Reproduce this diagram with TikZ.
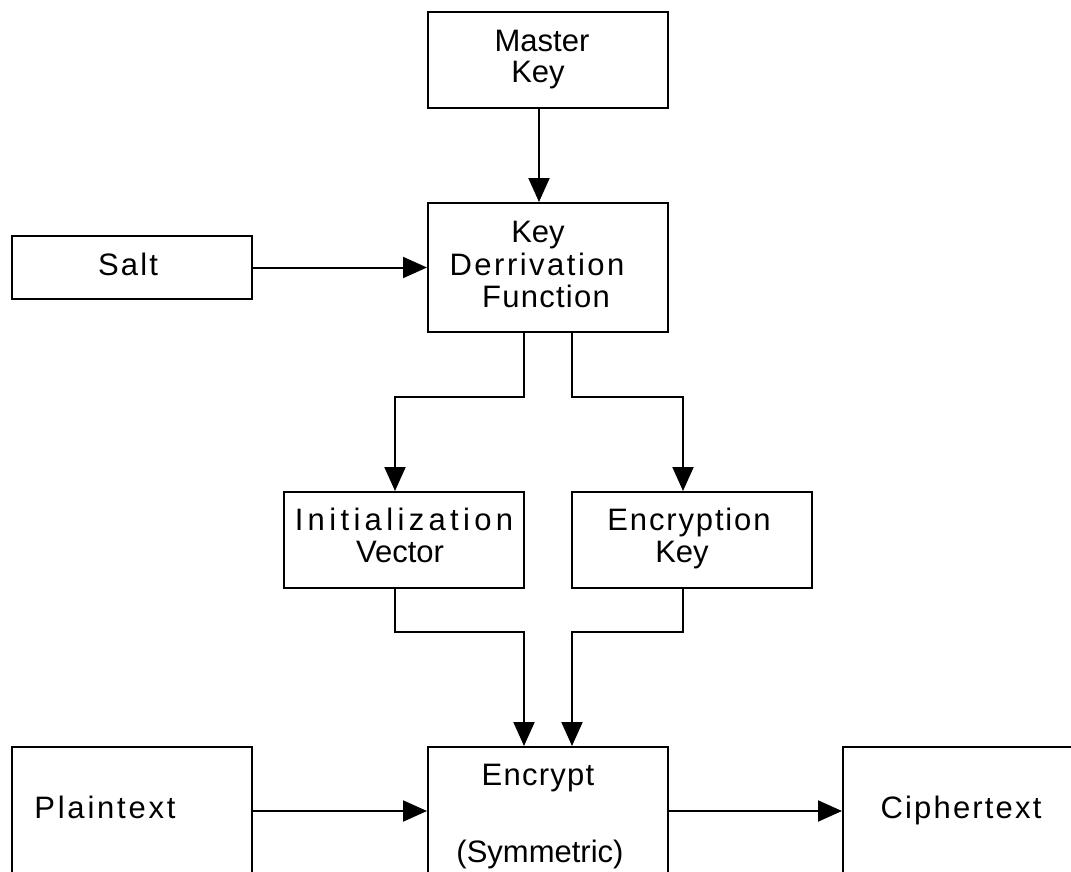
\documentclass[tikz,border=0pt]{standalone}
\usepackage{fontspec}
\setmainfont{Liberation Sans}
\usetikzlibrary{arrows.meta}
\newcommand{\lsp}[2]{{\addfontfeature{LetterSpace=#1}#2}}
\begin{document}
\begin{tikzpicture}[x=1pt,y=-1pt,
  box/.style={draw,line width=2pt,rectangle,minimum width=240pt,anchor=north west,inner sep=0pt},
  txt/.style={anchor=base,inner sep=0pt,font=\fontsize{31}{32}\selectfont},
  arr/.style={line width=2pt,-{Triangle[length=24pt,width=21pt]}}]
\clip (0,0) rectangle (1071,872);
\fill[white] (0,0) rectangle (1071,872);
% boxes
\node[box,minimum height=96pt]  (master) at (427,11)  {};
\node[box,minimum height=129pt] (kdf)    at (427,202) {};
\node[box,minimum height=63pt]  (salt)   at (11,235)  {};
\node[box,minimum height=96pt]  (iv)     at (283,491) {};
\node[box,minimum height=96pt]  (ek)     at (571,491) {};
\node[box,minimum height=200pt] (plain)  at (11,746)  {};
\node[box,minimum height=200pt] (enc)    at (427,746) {};
\node[box,minimum height=200pt] (cipher) at (842,746) {};
% texts
\node[txt] (t1)  at (542,52)  {Master};
\node[txt] (t2)  at (538,83)  {Key};
\node[txt] (t3)  at (538,242) {Key};
\node[txt] (t4)  at (537,275) {\lsp{8}{Derrivation}};
\node[txt] (t5)  at (546,307) {\lsp{4}{Function}};
\node[txt] (t6)  at (128,275) {\lsp{7}{Salt}};
\node[txt] (t7)  at (404,530) {\lsp{14}{Initialization}};
\node[txt] (t8)  at (400,562) {Vector};
\node[txt] (t9)  at (689,530) {\lsp{6}{Encryption}};
\node[txt] (t10) at (682,562) {Key};
\node[txt] (t11) at (538,785) {\lsp{4}{Encrypt}};
\node[txt] (t12) at (540,862) {(Symmetric)};
\node[txt] (t13) at (105,818) {\lsp{9}{Plaintext}};
\node[txt] (t14) at (961,818) {\lsp{7}{Ciphertext}};
% connectors
\draw[arr] ([xshift=-9pt]master.south) -- ([xshift=-9pt]kdf.north);
\draw[arr] (salt.east) -- (kdf.west);
\draw[arr] ([xshift=-24pt]kdf.south) -- ++(0,64) -| ([xshift=-9pt]iv.north);
\draw[arr] ([xshift=24pt]kdf.south) -- ++(0,64) -| ([xshift=-9pt]ek.north);
\draw[arr] ([xshift=-9pt]iv.south) -- ++(0,43) -| ([xshift=-24pt]enc.north);
\draw[arr] ([xshift=-9pt]ek.south) -- ++(0,43) -| ([xshift=24pt]enc.north);
\draw[arr] ([yshift=-65pt]plain.north east) -- ([yshift=-65pt]enc.north west);
\draw[arr] ([yshift=-65pt]enc.north east) -- ([yshift=-65pt]cipher.north west);
\end{tikzpicture}
\end{document}
